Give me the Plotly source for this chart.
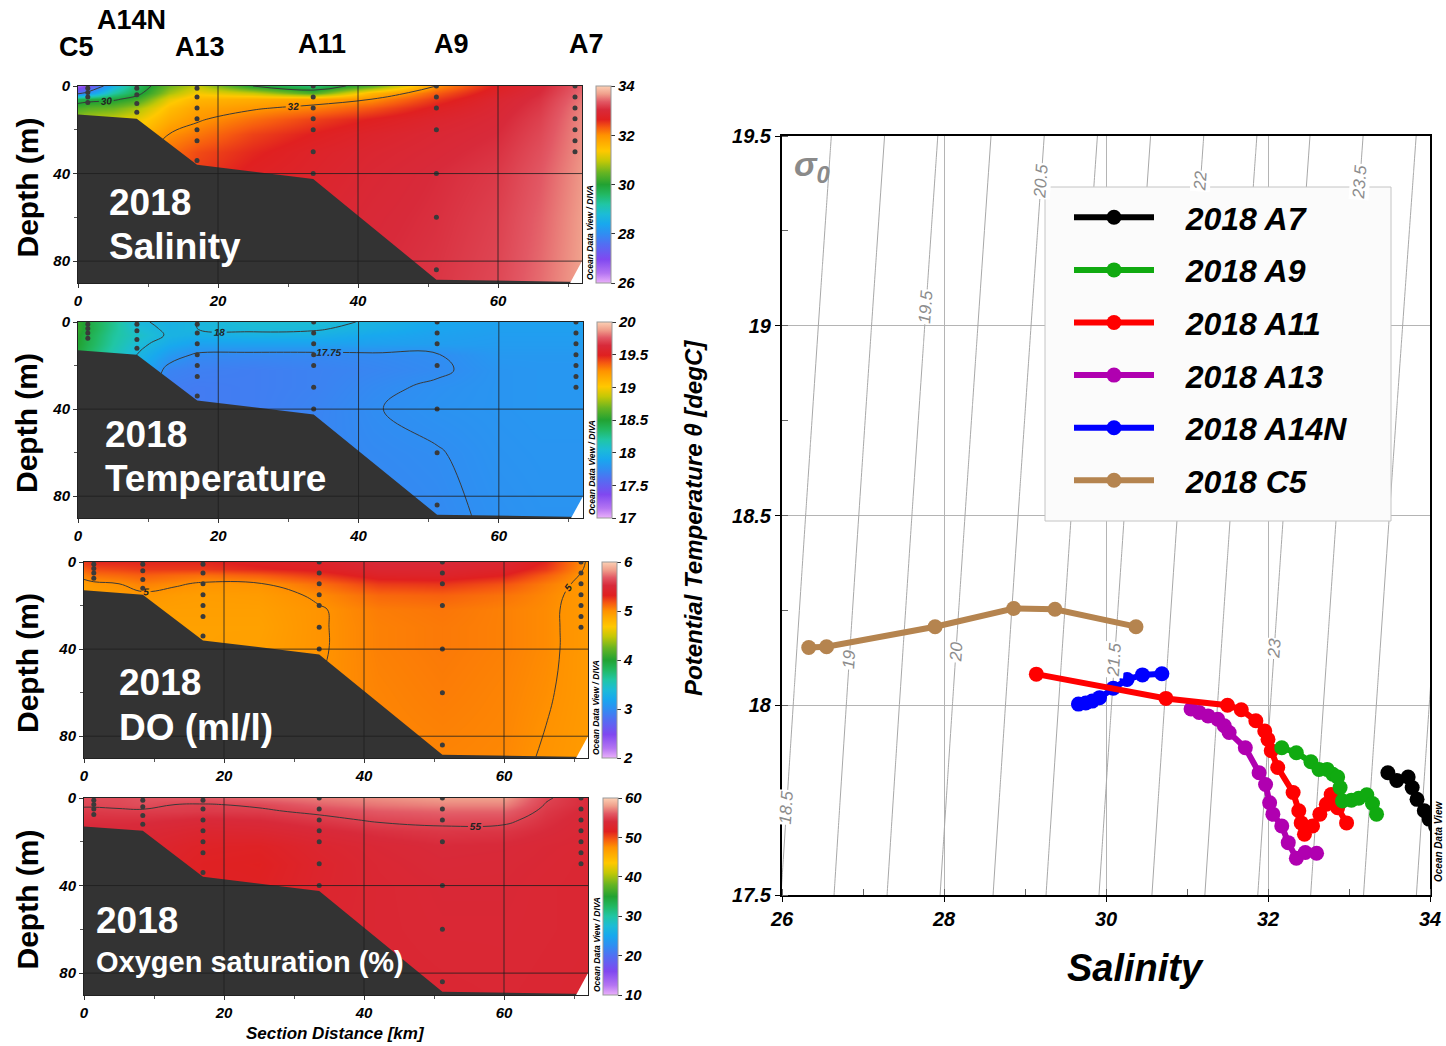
import numpy as np
import plotly.graph_objects as go

W, H = 1446, 1046
def fx(px): return px / W
def fy(py): return 1 - py / H

FONT = "Liberation Sans"
def fnt(size, color="black", bold=True, italic=True):
    d = dict(family=FONT, size=size, color=color)
    if bold: d["weight"] = "bold"
    if italic: d["style"] = "italic"
    return d

# ---------------- section data ----------------
station_names = ["C5", "A14N", "A13", "A11", "A9", "A7"]
station_km = [1.4, 8.4, 17.0, 33.6, 51.2, 71.0]
station_depths = [
    [1, 3, 5, 7.5],
    [1, 4, 8, 12],
    [1, 5, 10, 15, 20, 25, 34],
    [0, 5, 10, 15, 20, 30, 40],
    [0, 5, 10, 20, 40, 60, 84],
    [0, 5, 10, 15, 20, 25, 30],
]
bathy_km = [0, 8.4, 17.0, 33.6, 51.2, 72]
bathy_depth = [13, 15, 36, 42.5, 88.5, 89.5]
nodata_km = [70.3, 72, 72]
nodata_depth = [90, 80, 90]

grid_km = [0, 1.4, 5, 8.4, 13, 17, 25, 33.6, 42, 51.2, 60, 66, 72]
grid_depth = [0, 3, 6, 10, 15, 22, 30, 40, 60, 90]

salinity = [
    [26.6, 27.0, 28.6, 29.6, 30.5, 31.0, 30.0, 29.5, 30.4, 32.0, 32.7, 33.0, 33.4],
    [27.6, 28.1, 29.2, 29.8, 30.8, 31.3, 31.0, 30.3, 31.6, 32.3, 32.8, 33.05, 33.45],
    [29.7, 29.8, 29.9, 30.2, 31.2, 31.6, 31.7, 31.8, 32.0, 32.5, 32.9, 33.1, 33.5],
    [30.3, 30.4, 30.5, 30.8, 31.5, 31.8, 31.95, 32.1, 32.35, 32.7, 32.95, 33.15, 33.55],
    [30.8, 30.9, 31.0, 31.2, 31.7, 31.95, 32.2, 32.45, 32.65, 32.85, 33.0, 33.2, 33.58],
    [31.2, 31.2, 31.3, 31.5, 32.0, 32.15, 32.45, 32.65, 32.82, 32.95, 33.05, 33.25, 33.6],
    [31.5, 31.5, 31.6, 31.8, 32.2, 32.4, 32.6, 32.78, 32.9, 33.0, 33.1, 33.3, 33.62],
    [31.8, 31.8, 31.9, 32.0, 32.3, 32.5, 32.7, 32.82, 32.95, 33.05, 33.15, 33.35, 33.65],
    [32.0, 32.0, 32.1, 32.2, 32.4, 32.6, 32.8, 32.9, 33.0, 33.08, 33.2, 33.4, 33.68],
    [32.2, 32.2, 32.2, 32.3, 32.5, 32.7, 32.9, 32.95, 33.05, 33.12, 33.25, 33.45, 33.7],
]
temperature = [
    [18.55, 18.45, 18.25, 18.02, 17.97, 18.0, 18.06, 18.05, 17.98, 17.9, 17.86, 17.86, 17.86],
    [18.55, 18.45, 18.24, 18.06, 17.97, 18.0, 18.03, 18.02, 17.95, 17.88, 17.85, 17.85, 17.85],
    [18.52, 18.42, 18.22, 18.1, 17.98, 17.95, 17.97, 17.96, 17.9, 17.86, 17.84, 17.84, 17.84],
    [18.5, 18.4, 18.2, 18.05, 17.92, 17.86, 17.86, 17.86, 17.85, 17.84, 17.83, 17.83, 17.83],
    [18.45, 18.35, 18.15, 18.0, 17.82, 17.73, 17.72, 17.72, 17.73, 17.745, 17.81, 17.81, 17.81],
    [18.4, 18.3, 18.1, 17.95, 17.7, 17.68, 17.67, 17.69, 17.71, 17.735, 17.79, 17.8, 17.8],
    [18.3, 18.2, 18.0, 17.9, 17.67, 17.66, 17.67, 17.69, 17.73, 17.765, 17.79, 17.8, 17.8],
    [18.2, 18.1, 17.95, 17.85, 17.66, 17.66, 17.67, 17.7, 17.745, 17.775, 17.79, 17.8, 17.8],
    [18.1, 18.0, 17.9, 17.8, 17.66, 17.66, 17.68, 17.71, 17.73, 17.745, 17.78, 17.79, 17.79],
    [18.0, 17.9, 17.85, 17.75, 17.66, 17.66, 17.68, 17.7, 17.71, 17.73, 17.765, 17.78, 17.78],
]
dissolved_oxygen = [
    [5.25, 5.3, 5.3, 5.3, 5.3, 5.3, 5.35, 5.4, 5.5, 5.5, 5.45, 5.3, 4.98],
    [5.15, 5.2, 5.22, 5.25, 5.25, 5.25, 5.3, 5.35, 5.45, 5.45, 5.4, 5.25, 4.97],
    [5.05, 5.1, 5.12, 5.15, 5.12, 5.1, 5.15, 5.25, 5.38, 5.4, 5.32, 5.15, 4.96],
    [4.95, 4.97, 5.0, 5.05, 5.02, 4.98, 4.99, 5.1, 5.24, 5.26, 5.18, 5.06, 4.96],
    [4.9, 4.92, 4.95, 4.98, 4.95, 4.94, 4.95, 5.02, 5.12, 5.14, 5.09, 5.03, 4.96],
    [4.9, 4.9, 4.9, 4.93, 4.93, 4.93, 4.93, 4.99, 5.06, 5.08, 5.05, 5.02, 4.96],
    [4.9, 4.9, 4.9, 4.92, 4.92, 4.92, 4.92, 4.99, 5.05, 5.07, 5.05, 5.02, 4.96],
    [4.9, 4.9, 4.9, 4.92, 4.92, 4.92, 4.93, 4.99, 5.05, 5.07, 5.05, 5.02, 4.96],
    [4.9, 4.9, 4.9, 4.92, 4.92, 4.93, 4.95, 5.0, 5.04, 5.06, 5.04, 5.01, 4.96],
    [4.9, 4.9, 4.9, 4.92, 4.92, 4.93, 4.95, 5.0, 5.03, 5.04, 5.03, 4.99, 4.95],
]
oxygen_saturation = [
    [55.5, 55.5, 55.5, 55.8, 56.0, 56.0, 56.5, 57.0, 57.5, 58.0, 58.0, 55.2, 54.0],
    [55.2, 55.2, 55.3, 55.5, 55.0, 54.9, 55.2, 56.2, 56.8, 57.2, 57.2, 54.9, 54.0],
    [54.7, 54.7, 54.8, 54.8, 54.8, 54.7, 54.8, 55.3, 56.0, 56.3, 56.3, 54.6, 53.8],
    [54.2, 54.2, 54.2, 54.2, 54.0, 53.8, 54.0, 54.6, 55.2, 55.5, 55.4, 54.3, 53.6],
    [53.8, 53.8, 53.8, 53.6, 53.3, 53.0, 53.2, 53.8, 54.3, 54.6, 54.5, 54.0, 53.5],
    [53.5, 53.5, 53.4, 53.2, 52.6, 52.2, 52.0, 53.0, 53.6, 54.0, 53.9, 53.6, 53.4],
    [53.3, 53.3, 53.2, 53.0, 52.3, 51.8, 51.6, 52.7, 53.4, 53.8, 53.7, 53.5, 53.3],
    [53.3, 53.3, 53.2, 53.0, 52.4, 52.0, 51.8, 52.8, 53.3, 53.6, 53.6, 53.4, 53.3],
    [53.3, 53.3, 53.2, 53.1, 52.8, 52.6, 52.6, 53.0, 53.3, 53.5, 53.5, 53.4, 53.3],
    [53.2, 53.2, 53.2, 53.1, 53.0, 52.9, 52.9, 53.1, 53.2, 53.3, 53.4, 53.3, 53.2],
]

km_ticks = [0, 20, 40, 60]
depth_ticks = [0, 40, 80]

# ---------------- T-S data ----------------
ts_names = ["2018 A7", "2018 A9", "2018 A11", "2018 A13", "2018 A14N", "2018 C5"]
ts_colors = ["#000000", "#10aa10", "#ff0000", "#b000b0", "#0000ff", "#b5844f"]
sal_A7 = [33.48, 33.59, 33.73, 33.78, 33.84, 33.93, 33.99, 34.07]
tem_A7 = [17.822, 17.802, 17.811, 17.783, 17.752, 17.722, 17.700, 17.680]
sal_A9 = [32.17, 32.35, 32.53, 32.63, 32.73, 32.80, 32.86, 32.89, 32.92, 33.03, 33.12, 33.22, 33.29, 33.34]
tem_A9 = [17.888, 17.875, 17.851, 17.831, 17.831, 17.818, 17.811, 17.783, 17.748, 17.750, 17.755, 17.764, 17.741, 17.713]
sal_A11 = [29.14, 30.74, 31.50, 31.67, 31.85, 31.96, 32.00, 32.04, 32.12, 32.31, 32.38, 32.41, 32.45, 32.55, 32.64, 32.72, 32.78, 32.86, 32.97]
tem_A11 = [18.082, 18.018, 18.000, 17.988, 17.959, 17.932, 17.910, 17.880, 17.836, 17.770, 17.722, 17.690, 17.660, 17.682, 17.713, 17.739, 17.765, 17.730, 17.690]
sal_A13 = [31.05, 31.15, 31.26, 31.38, 31.46, 31.52, 31.72, 31.89, 31.97, 32.02, 32.06, 32.17, 32.25, 32.35, 32.46, 32.60]
tem_A13 = [17.990, 17.981, 17.972, 17.963, 17.946, 17.928, 17.888, 17.822, 17.791, 17.743, 17.713, 17.682, 17.638, 17.597, 17.612, 17.610]
sal_A14N = [29.66, 29.75, 29.83, 29.92, 30.09, 30.26, 30.45, 30.69]
tem_A14N = [18.003, 18.006, 18.011, 18.020, 18.045, 18.068, 18.080, 18.083]
sal_C5 = [26.33, 26.55, 27.89, 28.86, 29.37, 30.37]
tem_C5 = [18.152, 18.154, 18.207, 18.255, 18.253, 18.207]
ts_sal = [sal_A7, sal_A9, sal_A11, sal_A13, sal_A14N, sal_C5]
ts_tem = [tem_A7, tem_A9, tem_A11, tem_A13, tem_A14N, tem_C5]

iso_levels = (18.5, 24.5, 0.5)
iso_label_sigma = [18.5, 19, 19.5, 20, 20.5, 21.5, 22, 23, 23.5]
iso_label_temp = [17.73, 18.12, 19.05, 18.14, 19.38, 18.12, 19.38, 18.15, 19.38]

ODV = [
    [0.00, "#eab0fa"], [0.05, "#b474f2"], [0.12, "#8048f0"], [0.20, "#5070f2"],
    [0.25, "#2f8ef2"], [0.30, "#18a8ee"], [0.35, "#1cbcd6"], [0.40, "#20c6a4"],
    [0.45, "#22b862"], [0.50, "#22a232"], [0.56, "#66b422"], [0.62, "#c4c806"],
    [0.67, "#ffc800"], [0.72, "#ffa800"], [0.75, "#ff9200"], [0.79, "#f65a10"],
    [0.83, "#e02020"], [0.88, "#d82a3a"], [0.92, "#e25864"], [0.96, "#f0a08c"],
    [1.00, "#fcd0b4"],
]

def sigma0(S, T):
    rw = (999.842594 + 6.793952e-2 * T - 9.095290e-3 * T**2 + 1.001685e-4 * T**3
          - 1.120083e-6 * T**4 + 6.536332e-9 * T**5)
    A = 8.24493e-1 - 4.0899e-3 * T + 7.6438e-5 * T**2 - 8.2467e-7 * T**3 + 5.3875e-9 * T**4
    B = -5.72466e-3 + 1.0227e-4 * T - 1.6546e-6 * T**2
    C = 4.8314e-4
    return rw + A * S + B * np.power(S, 1.5) + C * S**2 - 1000.0

def sal_for_sigma(sig, T):
    lo, hi = 20.0, 40.0
    for _ in range(60):
        mid = 0.5 * (lo + hi)
        if sigma0(mid, T) < sig:
            lo = mid
        else:
            hi = mid
    return 0.5 * (lo + hi)

# ---------------- figure ----------------
fig = go.Figure()
panels = [
    dict(l=78, r=582, t=86, b=283, cbx=596, z=salinity, zr=(26, 34), ct=[26, 28, 30, 32, 34],
         cont=(28, 32, 2), title=["2018", "Salinity"], tx=107, ty=[202, 246], ts=[37, 37], odv=590),
    dict(l=78, r=583, t=322, b=518, cbx=597, z=temperature, zr=(17, 20), ct=[17, 17.5, 18, 18.5, 19, 19.5, 20],
         cont=(17.75, 18.0, 0.25), title=["2018", "Temperature"], tx=103, ty=[434, 479], ts=[37, 37], odv=592),
    dict(l=84, r=588, t=562, b=758, cbx=602, z=dissolved_oxygen, zr=(2, 6), ct=[2, 3, 4, 5, 6],
         cont=(5, 5, 1), title=["2018", "DO (ml/l)"], tx=117, ty=[682, 727], ts=[37, 37], odv=596),
    dict(l=84, r=588, t=798, b=995, cbx=603, z=oxygen_saturation, zr=(10, 60), ct=[10, 20, 30, 40, 50, 60],
         cont=(55, 55, 5), title=["2018", "Oxygen saturation (%)"], tx=94, ty=[920, 962], ts=[37, 29], odv=597),
]

shapes = []
annotations = []
layout = {}

for i, p in enumerate(panels):
    n = i + 1
    xa = "x" if n == 1 else f"x{n}"
    ya = "y" if n == 1 else f"y{n}"
    xkey = "xaxis" if n == 1 else f"xaxis{n}"
    ykey = "yaxis" if n == 1 else f"yaxis{n}"
    ht = (p["b"] - p["t"]) / H
    fig.add_trace(go.Heatmap(
        x=grid_km, y=grid_depth, z=p["z"], zsmooth="best", colorscale=ODV, showlegend=False,
        zmin=p["zr"][0], zmax=p["zr"][1], xaxis=xa, yaxis=ya, hoverinfo="skip",
        colorbar=dict(x=fx(p["cbx"]), xanchor="left", y=fy((p["t"] + p["b"]) / 2), yanchor="middle",
                      len=ht, lenmode="fraction", thickness=15, thicknessmode="pixels",
                      outlinecolor="#9a9a9a", outlinewidth=1, xpad=0, ypad=0,
                      tickvals=p["ct"], ticks="outside", ticklen=4, tickcolor="#333",
                      tickfont=fnt(15))))
    fig.add_trace(go.Contour(
        x=grid_km, y=grid_depth, z=p["z"], xaxis=xa, yaxis=ya, showscale=False, hoverinfo="skip",
        showlegend=False,
        contours=dict(coloring="none", start=p["cont"][0], end=p["cont"][1], size=p["cont"][2],
                      showlabels=True, labelfont=fnt(10, "#222")),
        line=dict(color="#3a3a3a", width=1, smoothing=1.2)))
    for k, d in zip(station_km, station_depths):
        fig.add_trace(go.Scatter(x=[k] * len(d), y=d, mode="markers", xaxis=xa, yaxis=ya,
                                 marker=dict(size=5, color="#3a3a3a"), showlegend=False, hoverinfo="skip"))
    # bathymetry
    path = "M " + " L ".join(f"{x},{y}" for x, y in zip(bathy_km, bathy_depth))
    path += f" L {bathy_km[-1]},90 L {bathy_km[0]},90 Z"
    shapes.append(dict(type="path", path=path, xref=xa, yref=ya, fillcolor="#333333",
                       line=dict(width=0), layer="above"))
    path2 = "M " + " L ".join(f"{x},{y}" for x, y in zip(nodata_km, nodata_depth)) + " Z"
    shapes.append(dict(type="path", path=path2, xref=xa, yref=ya, fillcolor="white",
                       line=dict(width=0), layer="above"))
    for gx in km_ticks[1:]:
        shapes.append(dict(type="line", xref=xa, yref=ya, x0=gx, x1=gx, y0=0, y1=90,
                           line=dict(color="#1e1e1e", width=0.8), layer="above"))
    for gy in depth_ticks[1:]:
        shapes.append(dict(type="line", xref=xa, yref=ya, x0=0, x1=72, y0=gy, y1=gy,
                           line=dict(color="#1e1e1e", width=0.8), layer="above"))
    layout[xkey] = dict(domain=[fx(p["l"]), fx(p["r"])], anchor=ya, range=[0, 72],
                        tickvals=km_ticks, ticks="outside", ticklen=4, tickcolor="#333",
                        tickfont=fnt(15), showgrid=False, zeroline=False,
                        showline=True, mirror=True, linecolor="#222", linewidth=1,
                        minor=dict(dtick=10, ticks="outside", ticklen=3, tickcolor="#555"))
    layout[ykey] = dict(domain=[fy(p["b"]), fy(p["t"])], anchor=xa, range=[90, 0],
                        tickvals=depth_ticks, ticks="outside", ticklen=4, tickcolor="#333",
                        tickfont=fnt(15), showgrid=False, zeroline=False,
                        showline=True, mirror=True, linecolor="#222", linewidth=1,
                        minor=dict(dtick=20, ticks="outside", ticklen=3, tickcolor="#555"))
    for txt, yy, sz in zip(p["title"], p["ty"], p["ts"]):
        annotations.append(dict(text=txt, x=fx(p["tx"]), y=fy(yy), xref="paper", yref="paper",
                                xanchor="left", yanchor="middle", showarrow=False,
                                font=fnt(sz, "white", italic=False)))
    annotations.append(dict(text="Depth (m)", x=fx(27), y=fy((p["t"] + p["b"]) / 2 + 3), xref="paper",
                            yref="paper", textangle=-90, showarrow=False, xanchor="center",
                            yanchor="middle", font=fnt(30, italic=False)))
    annotations.append(dict(text="Ocean Data View / DIVA", x=fx(p["odv"]), y=fy(p["b"] - 50),
                            xref="paper", yref="paper", textangle=-90, showarrow=False,
                            xanchor="center", yanchor="middle", font=fnt(8.5)))

# station labels above first panel
station_label_px = [(76, 47), (131, 20), (200, 47), (322, 44), (451, 44), (586, 44)]
for name, (px, py) in zip(station_names, station_label_px):
    annotations.append(dict(text=name, x=fx(px), y=fy(py), xref="paper", yref="paper",
                            showarrow=False, xanchor="center", yanchor="middle",
                            font=fnt(27, italic=False)))
annotations.append(dict(text="Section Distance [km]", x=fx(335), y=fy(1033), xref="paper", yref="paper",
                        showarrow=False, xanchor="center", yanchor="middle", font=fnt(17)))

# ---------------- T-S diagram ----------------
S_grid = np.arange(25.8, 34.21, 0.05)
T_grid = np.arange(17.4, 19.61, 0.05)
SS, TT = np.meshgrid(S_grid, T_grid)
SIG = sigma0(SS, TT)
fig.add_trace(go.Contour(x=S_grid, y=T_grid, z=SIG, xaxis="x5", yaxis="y5", showscale=False,
                         hoverinfo="skip", showlegend=False,
                         contours=dict(coloring="none", start=iso_levels[0], end=iso_levels[1],
                                       size=iso_levels[2], showlabels=False),
                         line=dict(color="#a8a8a8", width=1)))
for sg, tt in zip(iso_label_sigma, iso_label_temp):
    s_pos = sal_for_sigma(sg, tt)
    annotations.append(dict(text=f"{sg:g}", x=s_pos, y=tt, xref="x5", yref="y5", showarrow=False,
                            textangle=-86, bgcolor="white", borderpad=0,
                            font=fnt(17, "#8c8c8c", bold=False)))

NB = "\u00a0"
order = [5, 4, 3, 2, 1, 0]  # draw C5 first, A7 last
for idx in order:
    fig.add_trace(go.Scatter(x=ts_sal[idx], y=ts_tem[idx], mode="lines+markers",
                             name=NB * 3 + ts_names[idx],
                             xaxis="x5", yaxis="y5", legendrank=idx + 1, legendgroup=ts_names[idx],
                             line=dict(color=ts_colors[idx], width=6),
                             marker=dict(color=ts_colors[idx], size=15)))

# legend frame
shapes.append(dict(type="rect", xref="paper", yref="paper", x0=fx(1045), x1=fx(1391),
                   y0=fy(521), y1=fy(187), fillcolor="#fbfbfb",
                   line=dict(color="#c4c4c4", width=1), layer="above"))

layout["xaxis5"] = dict(domain=[fx(782), fx(1430)], anchor="y5", range=[26, 34], dtick=2,
                        tickfont=fnt(20), ticks="outside", ticklen=5, tickcolor="black",
                        showgrid=True, gridcolor="#b4b4b4", gridwidth=1, zeroline=False,
                        showline=True, mirror=True, linecolor="black", linewidth=2,
                        minor=dict(dtick=1, ticks="inside", ticklen=6, tickcolor="#666"))
layout["yaxis5"] = dict(domain=[fy(895), fy(136)], anchor="x5", range=[17.5, 19.5], dtick=0.5,
                        tickfont=fnt(20), ticks="outside", ticklen=5, tickcolor="black",
                        showgrid=True, gridcolor="#b4b4b4", gridwidth=1, zeroline=False,
                        showline=True, mirror=True, linecolor="black", linewidth=2,
                        minor=dict(dtick=0.25, ticks="inside", ticklen=6, tickcolor="#666"))

annotations.append(dict(text="Potential Temperature θ [degC]", x=fx(693), y=fy(518), xref="paper",
                        yref="paper", textangle=-90, showarrow=False, xanchor="center",
                        yanchor="middle", font=fnt(24)))
annotations.append(dict(text="Salinity", x=fx(1135), y=fy(968), xref="paper", yref="paper",
                        showarrow=False, xanchor="center", yanchor="middle", font=fnt(38)))
annotations.append(dict(text="σ<sub>0</sub>", x=fx(812), y=fy(166), xref="paper", yref="paper",
                        showarrow=False, xanchor="center", yanchor="middle", font=fnt(34, "#8a8a8a")))
annotations.append(dict(text="Ocean Data View", x=fx(1438), y=fy(842), xref="paper", yref="paper",
                        showarrow=False, textangle=-90, xanchor="center", yanchor="middle",
                        font=fnt(10)))

fig.update_layout(
    width=W, height=H, margin=dict(l=0, r=0, t=0, b=0, autoexpand=False),
    paper_bgcolor="white", plot_bgcolor="white",
    shapes=shapes, annotations=annotations,
    legend=dict(x=fx(1069), y=fy(190), xanchor="left", yanchor="top",
                bgcolor="rgba(0,0,0,0)", borderwidth=0,
                font=fnt(32), itemwidth=80, tracegroupgap=8, traceorder="grouped"),
    **layout,
)
fig.write_html("out.html", config={"displayModeBar": False},
               post_script="document.body.style.margin='0px';")
